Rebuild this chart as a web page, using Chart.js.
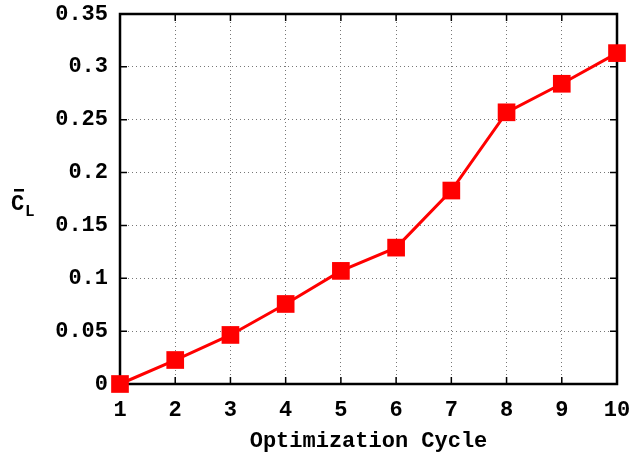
<!DOCTYPE html>
<html lang="en">
    <head>
        <meta charset="UTF-8" />
        <title>Optimization Cycle</title>
        <script src="https://cdn.jsdelivr.net/npm/chart.js"></script>
        <style>
            html, body { margin: 0; padding: 0; background: #fff; }
            .wrap { width: 636px; height: 455px; }
        </style>
    </head>
    <body>
        <div class="wrap"><canvas id="clChart"></canvas></div>

        <script>
            // data
            const cycles = [1, 2, 3, 4, 5, 6, 7, 8, 9, 10];
            const clValues = [0, 0.0227, 0.0464, 0.0757, 0.107, 0.129, 0.183, 0.257, 0.284, 0.313];
            const yTicks = ["0", "0.05", "0.1", "0.15", "0.2", "0.25", "0.3", "0.35"];
            const xTitle = "Optimization Cycle";

            const monoFont = { family: "'Liberation Mono', 'DejaVu Sans Mono', monospace", size: 22, weight: "bold" };

            // frame, inner ticks and the C_L label (gnuplot look)
            const framePlugin = {
                id: "frame",
                beforeDatasetsDraw(chart) {
                    const { ctx, chartArea: a, scales } = chart;
                    ctx.save();
                    ctx.strokeStyle = "#000";
                    ctx.lineWidth = 1.5;
                    ctx.beginPath();
                    scales.x.ticks.forEach((t) => {
                        const px = scales.x.getPixelForValue(t.value);
                        ctx.moveTo(px, a.bottom); ctx.lineTo(px, a.bottom - 7);
                        ctx.moveTo(px, a.top); ctx.lineTo(px, a.top + 7);
                    });
                    scales.y.ticks.forEach((t) => {
                        const py = scales.y.getPixelForValue(t.value);
                        ctx.moveTo(a.left, py); ctx.lineTo(a.left + 7, py);
                        ctx.moveTo(a.right, py); ctx.lineTo(a.right - 7, py);
                    });
                    ctx.stroke();
                    ctx.lineWidth = 2.5;
                    ctx.strokeRect(a.left, a.top, a.right - a.left, a.bottom - a.top);
                    ctx.restore();
                },
                afterDraw(chart) {
                    const { ctx, chartArea: a } = chart;
                    const cy = (a.top + a.bottom) / 2 + 5;
                    ctx.save();
                    ctx.fillStyle = "#000";
                    ctx.textBaseline = "middle";
                    ctx.textAlign = "left";
                    ctx.font = "bold 22px 'Liberation Mono', monospace";
                    ctx.fillText("C", 11, cy);
                    ctx.fillRect(14, cy - 15, 10, 2.5);
                    ctx.font = "bold 16px 'Liberation Mono', monospace";
                    ctx.fillText("L", 25, cy + 8);
                    ctx.restore();
                },
            };

            new Chart(document.getElementById("clChart"), {
                type: "line",
                data: {
                    datasets: [
                        {
                            data: cycles.map((c, i) => ({ x: c, y: clValues[i] })),
                            borderColor: "#ff0000",
                            backgroundColor: "#ff0000",
                            borderWidth: 3,
                            pointStyle: "rect",
                            pointRadius: 12.5,
                            pointHoverRadius: 12.5,
                            pointBorderWidth: 0,
                            tension: 0,
                            clip: false,
                        },
                    ],
                },
                options: {
                    responsive: true,
                    maintainAspectRatio: false,
                    animation: false,
                    layout: { padding: { top: 14, right: 19, left: 0, bottom: 0 } },
                    plugins: { legend: { display: false }, tooltip: { enabled: false } },
                    scales: {
                        x: {
                            type: "linear",
                            min: 1,
                            max: 10,
                            ticks: { stepSize: 1, color: "#000", font: monoFont, padding: 13, maxRotation: 0 },
                            grid: { color: "#777", drawTicks: false },
                            border: { display: false, dash: [1, 3] },
                            title: { display: true, text: xTitle, color: "#000", font: monoFont, padding: { top: 10, bottom: 0 } },
                            afterFit(scale) {
                                scale.height = 71;
                                scale.paddingLeft = 0;
                                scale.paddingRight = 0;
                            },
                        },
                        y: {
                            min: 0,
                            max: 0.35,
                            ticks: {
                                stepSize: 0.05,
                                color: "#000",
                                font: monoFont,
                                padding: 12,
                                callback: (v, i) => yTicks[i],
                            },
                            grid: { color: "#777", drawTicks: false },
                            border: { display: false, dash: [1, 3] },
                            afterFit(scale) {
                                scale.width = 120;
                                scale.paddingTop = 0;
                                scale.paddingBottom = 0;
                            },
                        },
                    },
                },
                plugins: [framePlugin],
            });
        </script>
    </body>
</html>
